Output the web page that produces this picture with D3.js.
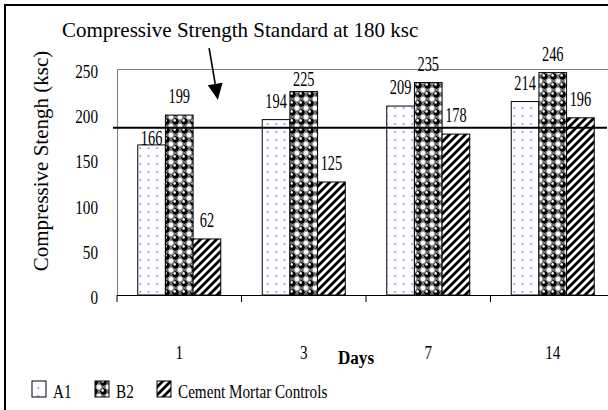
<!DOCTYPE html>
<html>
<head>
<meta charset="utf-8">
<script src="https://cdn.jsdelivr.net/npm/d3@7"></script>
<style>
  html, body { margin: 0; padding: 0; background: #fff; overflow: hidden; }
  svg { display: block; }
</style>
</head>
<body>
<svg id="chart" width="608" height="410" font-family="'Liberation Serif', 'Times New Roman', Times, serif"></svg>
<script>
// ---- data ----
const days = ["1", "3", "7", "14"];
const seriesNames = ["A1", "B2", "Cement Mortar Controls"];
const a1Values = [166, 194, 209, 214];
const b2Values = [199, 225, 235, 246];
const cmcValues = [62, 125, 178, 196];
const yTicks = [0, 50, 100, 150, 200, 250];
const standardValue = 185; // drawn position of the "180 ksc" standard line
const titleText = "Compressive Strength Standard at 180 ksc";
const yTitle = "Compressive Stengh (ksc)";
const xTitle = "Days";

const seriesValues = [a1Values, b2Values, cmcValues];
const patternIds = ["patA1", "patB2", "patCMC"];
const FONT = "Liberation Serif";

const svg = d3.select("#chart");

// ---- patterns ----
const defs = svg.append("defs");
const pA = defs.append("pattern").attr("id", "patA1").attr("patternUnits", "userSpaceOnUse")
  .attr("width", 8.5).attr("height", 8);
pA.append("rect").attr("width", 8.5).attr("height", 8).attr("fill", "#fff");
pA.append("circle").attr("cx", 4.2).attr("cy", 4).attr("r", 1).attr("fill", "#8c8cf0");

const pB = defs.append("pattern").attr("id", "patB2").attr("patternUnits", "userSpaceOnUse")
  .attr("width", 9).attr("height", 9);
pB.append("rect").attr("width", 9).attr("height", 9).attr("fill", "#000");
// white checker squares between balls
pB.append("rect").attr("x", 0).attr("y", 0).attr("width", 2.6).attr("height", 2.6).attr("fill", "#fff");
pB.append("rect").attr("x", 6.4).attr("y", 0).attr("width", 2.6).attr("height", 2.6).attr("fill", "#fff");
pB.append("rect").attr("x", 0).attr("y", 6.4).attr("width", 2.6).attr("height", 2.6).attr("fill", "#fff");
pB.append("rect").attr("x", 6.4).attr("y", 6.4).attr("width", 2.6).attr("height", 2.6).attr("fill", "#fff");
pB.append("circle").attr("cx", 4.5).attr("cy", 4.5).attr("r", 3.9).attr("fill", "#000")
  .attr("stroke", "#fff").attr("stroke-width", 0.7);
pB.append("circle").attr("cx", 3.6).attr("cy", 3.4).attr("r", 1.3).attr("fill", "#fff");

const pC = defs.append("pattern").attr("id", "patCMC").attr("patternUnits", "userSpaceOnUse")
  .attr("width", 8).attr("height", 8);
pC.append("rect").attr("width", 8).attr("height", 8).attr("fill", "#fff");
pC.append("path").attr("d", "M0,8 L8,0 M-4,4 L4,-4 M4,12 L12,4")
  .attr("stroke", "#000").attr("stroke-width", 2.8);

// ---- scales ----
const x = d3.scaleBand().domain(days).range([117, 615]).padding(0);
const bw = x.bandwidth();
const barW = bw / 4.5;
const groupOff = barW * 0.75;
const y = d3.scaleLinear().domain([0, 250]).range([295, 69]);

// helper for horizontally condensed text
function ctext(g, str, tx, ty, size, sx, anchor, weight) {
  return g.append("text")
    .attr("transform", `translate(${tx},${ty}) scale(${sx},1)`)
    .attr("text-anchor", anchor || "start")
    .attr("font-family", FONT)
    .attr("font-size", size)
    .attr("font-weight", weight || "normal")
    .attr("fill", "#000")
    .text(str);
}

// ---- outer border (left & top visible) ----
svg.append("path").attr("d", "M5,410V5H608")
  .attr("fill", "none").attr("stroke", "#000").attr("stroke-width", 2);

// ---- plot area border (grey, top & left) ----
svg.append("path").attr("d", `M117.5,${y(0)}V${y(250) + 0.5}H608`)
  .attr("fill", "none").attr("stroke", "#808080").attr("stroke-width", 1);

// ---- bars ----
const barsG = svg.append("g");
seriesValues.forEach((vals, si) => {
  barsG.selectAll(null).data(vals).enter().append("rect")
    .attr("x", (d, i) => x(days[i]) + groupOff + si * barW)
    .attr("y", d => y(d))
    .attr("width", barW)
    .attr("height", d => y(0) - y(d))
    .attr("fill", `url(#${patternIds[si]})`)
    .attr("stroke", "#000").attr("stroke-width", 1);
});

// ---- x axis ----
const xAxis = d3.axisBottom(x).tickValues([]).tickSizeOuter(0);
const xAxisG = svg.append("g").attr("transform", `translate(0,${y(0)})`).call(xAxis);
xAxisG.select(".domain").attr("stroke", "#000").attr("d", `M117,0.5H608`);
svg.append("g").selectAll("line").data(days).enter().append("line")
  .attr("x1", d => x(d)).attr("x2", d => x(d))
  .attr("y1", y(0)).attr("y2", y(0) + 7)
  .attr("stroke", "#000").attr("stroke-width", 1);

const xLab = svg.append("g");
days.forEach(d => ctext(xLab, d, x(d) + bw / 2, 359, 19, 0.8, "middle"));
ctext(svg, xTitle, 356, 364, 19, 0.9, "middle", "bold");

// ---- y axis labels ----
const yLab = svg.append("g");
yTicks.forEach(t => ctext(yLab, t, 98, y(t) + 9, 19, 0.8, "end"));

svg.append("text")
  .attr("transform", `translate(48,${161}) rotate(-90)`)
  .attr("text-anchor", "middle").attr("font-family", FONT).attr("font-size", 21)
  .attr("fill", "#000").text(yTitle);

// ---- standard line (on top of bars) ----
svg.append("line").attr("x1", 113).attr("x2", 607)
  .attr("y1", y(standardValue)).attr("y2", y(standardValue))
  .attr("stroke", "#000").attr("stroke-width", 2);

// ---- data labels ----
const lift = { "0-0": 0, "1-1": 6 };
const dataLab = svg.append("g");
seriesValues.forEach((vals, si) => {
  vals.forEach((v, i) => {
    const key = `${si}-${i}`;
    const l = key in lift ? lift[key] : 12;
    ctext(dataLab, v, x(days[i]) + groupOff + si * barW + barW / 2, y(v) - l, 20, 0.72, "middle");
  });
});

// ---- title + arrow ----
svg.append("text").attr("x", 62).attr("y", 37).attr("font-family", FONT)
  .attr("font-size", 21).attr("fill", "#000").text(titleText);
const tip = [x(days[0]) + bw * 0.81, y(216)];
const tail = [x(days[0]) + bw * 0.74, y(273)];
const ang = Math.atan2(tip[1] - tail[1], tip[0] - tail[0]);
const headLen = 16, headHalf = 7.5;
const bx = tip[0] - headLen * Math.cos(ang), by = tip[1] - headLen * Math.sin(ang);
svg.append("line").attr("x1", tail[0]).attr("y1", tail[1]).attr("x2", bx).attr("y2", by)
  .attr("stroke", "#000").attr("stroke-width", 1.6);
svg.append("path")
  .attr("d", d3.line()([
    tip,
    [bx + headHalf * Math.sin(ang), by - headHalf * Math.cos(ang)],
    [bx - headHalf * Math.sin(ang), by + headHalf * Math.cos(ang)]
  ]) + "Z")
  .attr("fill", "#000");

// ---- legend ----
const legX = [32, 95, 157];
const legG = svg.append("g");
seriesNames.forEach((n, i) => {
  legG.append("rect").attr("x", legX[i]).attr("y", 381).attr("width", 14).attr("height", 16)
    .attr("fill", `url(#${patternIds[i]})`).attr("stroke", "#000").attr("stroke-width", 1);
  ctext(legG, n, legX[i] + 21, 398, 19, 0.8, "start");
});
</script>
</body>
</html>
